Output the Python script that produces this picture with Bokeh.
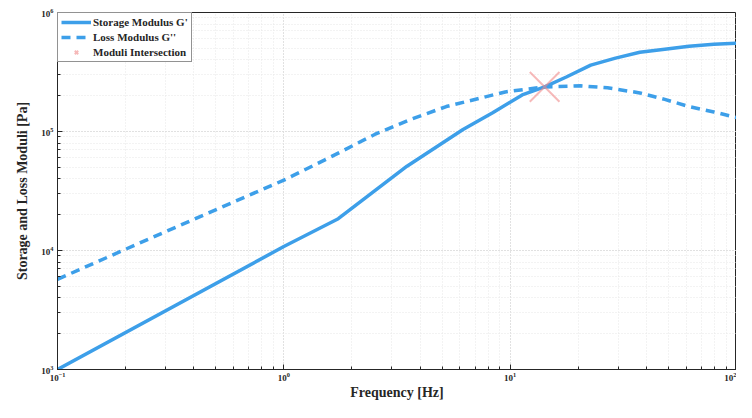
from bokeh.plotting import figure
from bokeh.models import Range1d, Legend, LegendItem
from bokeh.embed import file_html
from bokeh.resources import INLINE

# Storage modulus G' (solid)
freq_storage = [0.1, 1.0, 1.74, 3.5, 6.19, 8.37, 11.3, 14.2, 17.7, 22.7, 29.2, 37.4, 48.2, 61.7, 79.4, 100.0]
storage_modulus = [1000, 10800, 18500, 51100, 104000, 144000, 203000, 237000, 287000, 361000,
                   414000, 464000, 492000, 521000, 541000, 552000]

# Loss modulus G'' (dashed)
freq_loss = [0.1, 0.3, 1.0, 1.6, 2.52, 3.62, 5.22, 9.51, 14.2, 20.5, 26.9, 37.4, 48.2, 61.7, 79.4, 100.0]
loss_modulus = [5730, 14400, 39000, 60700, 94400, 126000, 162000, 215000, 237000, 242000, 233000,
                211000, 186000, 162000, 146000, 131000]

# Crossover point
cross_freq = [14.2]
cross_modulus = [237000]

BLUE = "#3d9fe9"
DARK = "#262626"
FONT = "Liberation Serif"

p = figure(width=736, height=402, x_axis_type="log", y_axis_type="log",
           x_range=Range1d(0.1, 100), y_range=Range1d(1e3, 1e6),
           output_backend="svg", toolbar_location=None,
           min_border_left=57, min_border_right=0, min_border_top=12, min_border_bottom=30)

p.background_fill_color = "white"
p.border_fill_color = "white"
p.outline_line_color = DARK
p.outline_line_width = 1

for ax in (p.xaxis[0], p.yaxis[0]):
    ax.major_label_text_font = FONT
    ax.major_label_text_font_style = "bold"
    ax.major_label_text_font_size = "9px"
    ax.major_label_text_color = DARK
    ax.axis_label_text_font = FONT
    ax.axis_label_text_font_style = "bold"
    ax.axis_label_text_font_size = "14px"
    ax.axis_label_text_color = DARK
    ax.axis_line_color = DARK
    ax.major_tick_in = 5
    ax.major_tick_out = 0
    ax.minor_tick_in = 3
    ax.minor_tick_out = 0
    ax.major_tick_line_color = DARK
    ax.minor_tick_line_color = DARK

p.xaxis.axis_label = "Frequency [Hz]"
p.yaxis.axis_label = "Storage and Loss Moduli [Pa]"
p.xaxis.axis_label_standoff = 1
p.yaxis.axis_label_standoff = 8
p.xaxis.major_label_standoff = 3
p.yaxis.major_label_standoff = 4

for g in (p.xgrid[0], p.ygrid[0]):
    g.grid_line_color = "#d4d4d4"
    g.grid_line_dash = "1 2"
    g.grid_line_width = 1
    g.minor_grid_line_color = "#e6e6e6"
    g.minor_grid_line_dash = "1 2"
    g.minor_grid_line_width = 1

r1 = p.line(freq_storage, storage_modulus, line_color=BLUE, line_width=3.5)
r2 = p.line(freq_loss, loss_modulus, line_color=BLUE, line_width=3.5, line_dash="9 6")
r3 = p.scatter(cross_freq, cross_modulus, marker="x", size=42, line_color="#f08a8a",
               line_alpha=0.6, line_width=2)

legend = Legend(items=[
    LegendItem(label="Storage Modulus G'", renderers=[r1]),
    LegendItem(label="Loss Modulus G''", renderers=[r2]),
    LegendItem(label="Moduli Intersection", renderers=[r3]),
], location="top_left")
legend.label_text_font = FONT
legend.label_text_font_style = "bold"
legend.label_text_font_size = "11px"
legend.label_text_color = DARK
legend.glyph_width = 30
legend.glyph_height = 12
legend.label_height = 12
legend.spacing = 3
legend.padding = 3
legend.margin = 0
legend.label_standoff = 2
legend.border_line_color = DARK
legend.border_line_width = 1
legend.background_fill_color = "white"
legend.background_fill_alpha = 1
p.add_layout(legend)

open("out.html", "w").write(file_html(p, INLINE))
